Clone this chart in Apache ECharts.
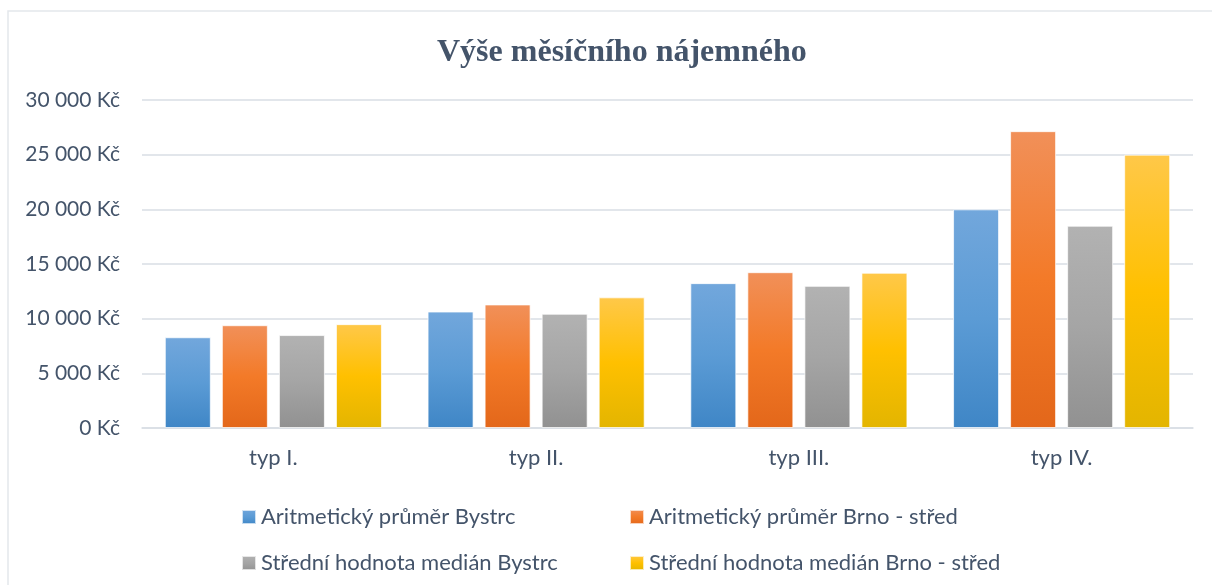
<!DOCTYPE html>
<html>
<head>
<meta charset="utf-8">
<script src="https://cdn.jsdelivr.net/npm/echarts@6/dist/echarts.min.js"></script>
<style>
  html, body { margin: 0; padding: 0; background: #fff; }
  #chart { width: 1212px; height: 585px; }
</style>
</head>
<body>
<div id="chart"></div>
<script>
  // data
  var categories = ['typ I.', 'typ II.', 'typ III.', 'typ IV.'];
  var seriesNames = [
    'Aritmetický průměr Bystrc',
    'Aritmetický průměr Brno - střed',
    'Střední hodnota medián Bystrc',
    'Střední hodnota medián Brno - střed'
  ];
  var prumerBystrc = [8300, 10650, 13250, 20000];
  var prumerBrno = [9400, 11300, 14250, 27150];
  var medianBystrc = [8500, 10450, 13000, 18500];
  var medianBrno = [9500, 11950, 14200, 25000];

  var textColor = '#44546A';
  var font = 'Lato';

  function grad(top, mid, bottom) {
    return new echarts.graphic.LinearGradient(0, 0, 0, 1, [
      { offset: 0, color: top },
      { offset: 0.5, color: mid },
      { offset: 1, color: bottom }
    ]);
  }

  var colors = [
    grad('#72A7DC', '#5B9BD5', '#3F86C6'),
    grad('#F19059', '#F37A28', '#E3671A'),
    grad('#B2B2B2', '#A5A5A5', '#919191'),
    grad('#FFC849', '#FFC000', '#E3B500')
  ];
  var values = [prumerBystrc, prumerBrno, medianBystrc, medianBrno];

  function fmt(v) {
    var s = String(v).replace(/\B(?=(\d{3})+(?!\d))/g, ' ');
    return s + ' Kč';
  }

  var legendText = { fontFamily: font, fontSize: 22, lineHeight: 26, color: textColor };

  var chart = echarts.init(document.getElementById('chart'));
  chart.setOption({
    backgroundColor: '#fff',
    animation: false,
    graphic: [{
      type: 'rect',
      shape: { x: 8, y: 11, width: 1230, height: 600 },
      style: { fill: 'none', stroke: '#E4E7EB', lineWidth: 1.5 },
      silent: true
    }],
    title: {
      text: 'Výše měsíčního nájemného',
      left: 432,
      top: 32,
      textStyle: {
        fontFamily: 'Liberation Serif',
        fontWeight: 'bold',
        fontSize: 32,
        color: textColor
      }
    },
    legend: [{
      orient: 'vertical',
      left: 236,
      top: 499,
      itemWidth: 14,
      itemHeight: 14,
      itemGap: 20,
      icon: 'rect',
      data: [
        { name: seriesNames[0], itemStyle: { color: colors[0] } },
        { name: seriesNames[2], itemStyle: { color: colors[2] } }
      ],
      textStyle: legendText
    }, {
      orient: 'vertical',
      left: 624,
      top: 499,
      itemWidth: 14,
      itemHeight: 14,
      itemGap: 20,
      icon: 'rect',
      data: [
        { name: seriesNames[1], itemStyle: { color: colors[1] } },
        { name: seriesNames[3], itemStyle: { color: colors[3] } }
      ],
      textStyle: legendText
    }],
    grid: { left: 142, right: 19, top: 100, bottom: 157 },
    xAxis: {
      type: 'category',
      data: categories,
      axisLine: { lineStyle: { color: '#D9DEE5', width: 1.5 } },
      axisTick: { show: false },
      axisLabel: { fontFamily: font, fontSize: 22, color: textColor, margin: 19 }
    },
    yAxis: {
      type: 'value',
      min: 0,
      max: 30000,
      interval: 5000,
      axisLine: { show: false },
      axisTick: { show: false },
      splitLine: { lineStyle: { color: '#D9DEE5', width: 1.5 } },
      axisLabel: { fontFamily: font, fontSize: 21, color: textColor, margin: 22, formatter: fmt }
    },
    series: values.map(function (d, i) {
      return {
        name: seriesNames[i],
        type: 'bar',
        data: d,
        barWidth: 46,
        barGap: '24%',
        itemStyle: { color: colors[i], borderColor: 'rgba(255,255,255,0.7)', borderWidth: 1 }
      };
    })
  });
</script>
</body>
</html>
